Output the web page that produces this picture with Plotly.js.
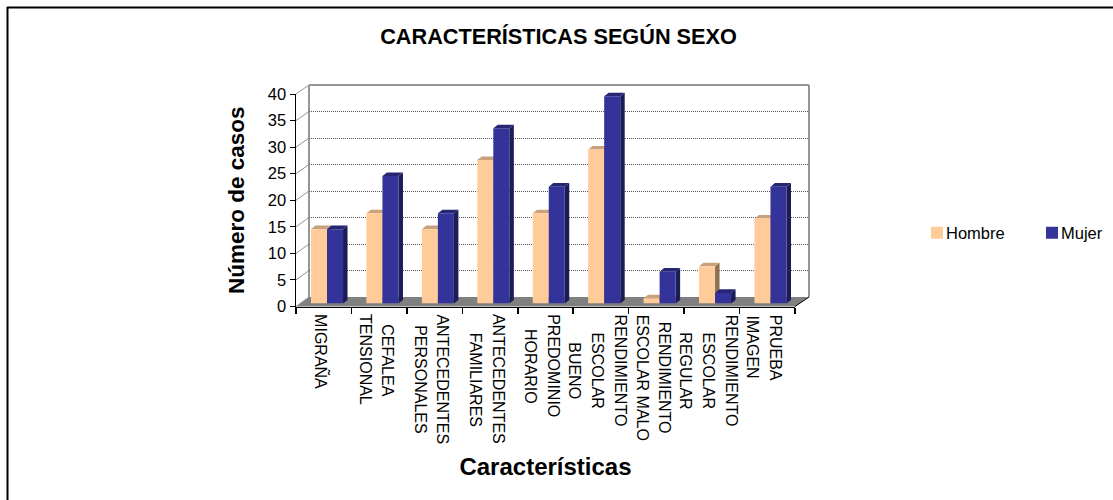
<!DOCTYPE html>
<html><head><meta charset="utf-8">
<script src="https://cdn.plot.ly/plotly-3.0.1.min.js"></script>
<style>html,body{margin:0;padding:0;background:#fff}#chart{width:1113px;height:500px}</style>
</head><body><div id="chart"></div>
<script>
const categoryLines = [
  ["MIGRAÑA"],
  ["CEFALEA","TENSIONAL"],
  ["ANTECEDENTES","PERSONALES"],
  ["ANTECEDENTES","FAMILIARES"],
  ["PREDOMINIO","HORARIO"],
  ["RENDIMIENTO","ESCOLAR","BUENO"],
  ["RENDIMIENTO","ESCOLAR MALO"],
  ["RENDIMIENTO","ESCOLAR","REGULAR"],
  ["PRUEBA","IMAGEN"]
];
const hombre = [14,17,14,27,17,29,1,7,16];
const mujer  = [14,24,17,33,22,39,6,2,22];
const yTicks = [0,5,10,15,20,25,30,35,40];

const W=1113,H=500;
const px=v=>v/W, py=v=>1-v/H;
const FONT='"Liberation Sans", Arial, sans-serif';
const catIdx=categoryLines.map((_,i)=>i+0.5);
const catRange=[0,categoryLines.length];
const barW=0.289, dx=4.5/55.4, dy=3.5/5.31;

function faces(vals,left){
  const side={x:[],y:[]},top={x:[],y:[]};
  vals.forEach((v,i)=>{
    const a=i+0.5+left, b=a+barW;
    side.x.push(b,b+dx,b+dx,b,b,null); side.y.push(0,dy,v+dy,v,0,null);
    top.x.push(a,b,b+dx,a+dx,a,null);  top.y.push(v,v,v+dy,v+dy,v,null);
  });
  return {side,top};
}
const fh=faces(hombre,-barW), fm=faces(mujer,0);
const poly=(f,c)=>({x:f.x,y:f.y,xaxis:'x3',yaxis:'y3',mode:'lines',fill:'toself',fillcolor:c,line:{width:0,color:c},hoverinfo:'skip',showlegend:false,type:'scatter'});

const dummy=(xa,ya)=>({x:[0],y:[0],xaxis:xa,yaxis:ya,mode:'none',type:'scatter',showlegend:false,hoverinfo:'skip'});
const traces=[
  dummy('x','y'),
  dummy('x2','y2'),
  poly(fh.side,'#8C7052'), poly(fh.top,'#C9A27C'),
  poly(fm.side,'#1C1C57'), poly(fm.top,'#262673'),
  {type:'bar',name:'Hombre',x:catIdx,y:hombre,xaxis:'x4',yaxis:'y4',marker:{color:'#FFCC99',line:{width:0}}},
  {type:'bar',name:'Mujer',x:catIdx,y:mujer,xaxis:'x4',yaxis:'y4',marker:{color:'#333399',line:{width:0}}}
];

const hidden={showgrid:false,zeroline:false,showticklabels:false,ticks:'',showline:false,fixedrange:true};
const ctx=document.createElement('canvas').getContext('2d');
ctx.font='16px "Liberation Sans"';
const annotations=[];
categoryLines.forEach((lines,i)=>{
  const longest=Math.max(...lines.map(t=>ctx.measureText(t).width));
  const n=lines.length;
  lines.forEach((t,j)=>{
    annotations.push({text:t,xref:'x',yref:'paper',x:i+0.5,y:py(314.5+longest/2),
      xshift:-3+((n-1)/2-j)*22.8,textangle:90,showarrow:false,xanchor:'center',yanchor:'middle',
      font:{family:FONT,size:16,color:'#000'}});
  });
});

// wall and floor frame
const shapes=[
  {type:'line',xref:'paper',yref:'paper',x0:px(7),x1:px(1113),y0:py(7.5),y1:py(7.5),line:{color:'#000',width:2},layer:'below'},
  {type:'line',xref:'paper',yref:'paper',x0:px(7.5),x1:px(7.5),y0:py(7),y1:py(500),line:{color:'#000',width:2},layer:'below'},
  {type:'path',xref:'paper',yref:'paper',path:`M${px(296)} ${py(306.5)}L${px(309)} ${py(297)}L${px(809)} ${py(297)}L${px(795)} ${py(306.5)}Z`,fillcolor:'#808080',line:{width:0},layer:'below'},
  {type:'line',xref:'paper',yref:'paper',x0:px(309),x1:px(309),y0:py(297),y1:py(85),line:{color:'#969696',width:2},layer:'below'},
  {type:'line',xref:'paper',yref:'paper',x0:px(309),x1:px(809),y0:py(85),y1:py(85),line:{color:'#969696',width:2},layer:'below'},
  {type:'line',xref:'paper',yref:'paper',x0:px(809),x1:px(809),y0:py(85),y1:py(297),line:{color:'#969696',width:2},layer:'below'},
  {type:'line',xref:'paper',yref:'paper',x0:px(795),x1:px(809),y0:py(306.5),y1:py(297),line:{color:'#000',width:1},layer:'below'}
];
yTicks.forEach(t=>{
  const yf=306.5-t*5.3125, yb=297-t*5.3;
  shapes.push({type:'line',xref:'paper',yref:'paper',x0:px(296),x1:px(309),y0:py(yf),y1:py(yb),line:{color:'#969696',width:1},layer:'below'});
});

const layout={
  width:W,height:H,margin:{l:0,r:0,t:0,b:0,pad:0,autoexpand:false},paper_bgcolor:'#fff',plot_bgcolor:'rgba(0,0,0,0)',
  font:{family:FONT,color:'#000',size:16},
  title:{text:'<b>CARACTERÍSTICAS SEGÚN SEXO</b>',x:px(558.5),xanchor:'center',y:py(36),yanchor:'middle',font:{family:FONT,size:21.7,color:'#000'}},
  barmode:'group',bargap:0.422,bargroupgap:0,
  showlegend:true,
  legend:{orientation:'h',x:px(906),y:py(233),xanchor:'left',yanchor:'middle',font:{family:FONT,size:16.5,color:'#000'},entrywidth:70,entrywidthmode:'pixels',bgcolor:'rgba(0,0,0,0)',traceorder:'normal'},
  xaxis:{domain:[px(296),px(795)],range:catRange,anchor:'y',tickmode:'array',tickvals:categoryLines.map((_,i)=>i).concat(categoryLines.length),ticktext:categoryLines.map(_=>'').concat(''),ticks:'outside',ticklen:6,tickcolor:'#000',tickwidth:1.5,showline:true,linecolor:'#000',linewidth:1.5,showgrid:false,zeroline:false,fixedrange:true,
    title:{text:'<b>Características</b>',standoff:142,font:{family:FONT,size:24,color:'#000'}}},
  yaxis:{domain:[py(306.5),py(94)],range:[0,40],anchor:'x',tickmode:'array',tickvals:yTicks,ticks:'outside',ticklen:5,tickcolor:'#000',showline:true,linecolor:'#000',linewidth:1.5,showgrid:false,zeroline:false,fixedrange:true,tickfont:{family:FONT,size:16.5,color:'#000'},
    title:{text:'<b>Número de casos</b>',standoff:17,font:{family:FONT,size:22.5,color:'#000'}}},
  xaxis2:Object.assign({domain:[px(309),px(809)],range:catRange,anchor:'y2'},hidden),
  yaxis2:{domain:[py(297),py(85)],range:[0,40],anchor:'x2',tickmode:'array',tickvals:yTicks,showgrid:true,gridcolor:'#555555',griddash:'1px,1px',gridwidth:1,zeroline:false,showticklabels:false,ticks:'',showline:false,fixedrange:true},
  xaxis3:Object.assign({domain:[px(299.3),px(798.2)],range:catRange,anchor:'y3'},hidden),
  yaxis3:Object.assign({domain:[py(303.5),py(91)],range:[0,40],anchor:'x3'},hidden),
  xaxis4:Object.assign({domain:[px(299.3),px(798.2)],range:catRange,anchor:'y4'},hidden),
  yaxis4:Object.assign({domain:[py(303.5),py(91)],range:[0,40],anchor:'x4'},hidden),
  annotations,shapes
};
Plotly.newPlot('chart',traces,layout,{displayModeBar:false,staticPlot:true}).then(()=>{
  document.querySelectorAll('#chart .legend .legendpoints').forEach(g=>g.setAttribute('transform','translate(11,0)'));
});
</script></body></html>
